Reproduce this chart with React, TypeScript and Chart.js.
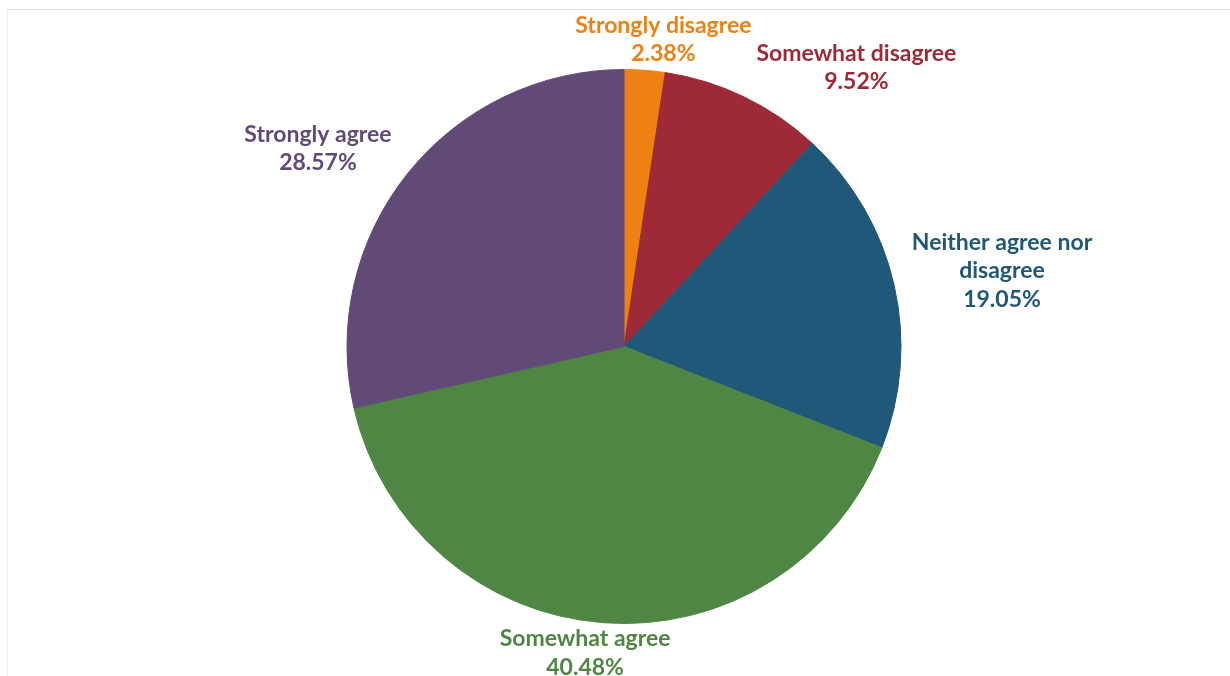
import React, { useEffect, useRef } from "react";
import { Chart, registerables } from "chart.js";

Chart.register(...registerables);

const categories: string[][] = [
  ["Strongly disagree"],
  ["Somewhat disagree"],
  ["Neither agree nor", "disagree"],
  ["Somewhat agree"],
  ["Strongly agree"],
];
const percentages: number[] = [2.38, 9.52, 19.05, 40.48, 28.57];
const percentLabels: string[] = ["2.38%", "9.52%", "19.05%", "40.48%", "28.57%"];
const sliceColors: string[] = ["#EE8112", "#9E2A37", "#1F5878", "#4F8644", "#614A78"];

const FONT = "bold 23px Lato, 'Open Sans', sans-serif";
const LINE_H = 28.5;

const outsideLabels = {
  id: "outsideLabels",
  afterDatasetsDraw(chart: any) {
    const ctx = chart.ctx as CanvasRenderingContext2D;
    const meta = chart.getDatasetMeta(0);
    ctx.save();
    ctx.font = FONT;
    ctx.textAlign = "center";
    ctx.textBaseline = "middle";
    meta.data.forEach((arc: any, i: number) => {
      const { x, y, startAngle, endAngle, outerRadius } = arc.getProps(
        ["x", "y", "startAngle", "endAngle", "outerRadius"],
        true
      );
      const mid = (startAngle + endAngle) / 2;
      const ux = Math.cos(mid);
      const uy = Math.sin(mid);
      const lines = [...categories[i], percentLabels[i]];
      const w = Math.max(...lines.map((l) => ctx.measureText(l).width));
      const h = lines.length * LINE_H;
      const gap = 10;
      const px = x + ux * (outerRadius + gap);
      const py = y + uy * (outerRadius + gap);
      const clamp = (v: number) => Math.max(-1, Math.min(1, v));
      const cx = px + (w / 2 + 8) * clamp(ux * 2.5);
      const cy = py + (h / 2 - 8) * clamp(uy * 1.5);
      ctx.fillStyle = sliceColors[i];
      const top = cy - h / 2 + LINE_H / 2;
      lines.forEach((l, j) => ctx.fillText(l, cx, top + j * LINE_H));
    });
    ctx.restore();
  },
};

export default function App() {
  const ref = useRef<HTMLCanvasElement>(null);
  useEffect(() => {
    document.body.style.margin = "0";
    const chart = new Chart(ref.current!, {
      type: "pie",
      data: {
        labels: categories.map((c) => c.join(" ")),
        datasets: [
          {
            data: percentages,
            backgroundColor: sliceColors,
            borderColor: sliceColors,
            borderWidth: 1,
          },
        ],
      },
      options: {
        animation: false,
        responsive: false,
        maintainAspectRatio: false,
        layout: { padding: { top: 69, bottom: 52, left: 18, right: 0 } },
        plugins: {
          legend: { display: false },
          tooltip: { enabled: false },
        },
      },
      plugins: [outsideLabels],
    });
    return () => chart.destroy();
  }, []);
  return (
    <div style={{ position: "relative", width: 1230, height: 676, background: "#fff", overflow: "hidden" }}>
      <div
        style={{
          position: "absolute",
          left: 7,
          top: 9,
          width: 1300,
          height: 800,
          borderTop: "1px solid #d9d9d9",
          borderLeft: "1px solid #ececec",
        }}
      />
      <canvas ref={ref} width={1230} height={676} style={{ position: "absolute", left: 0, top: 0 }} />
    </div>
  );
}
